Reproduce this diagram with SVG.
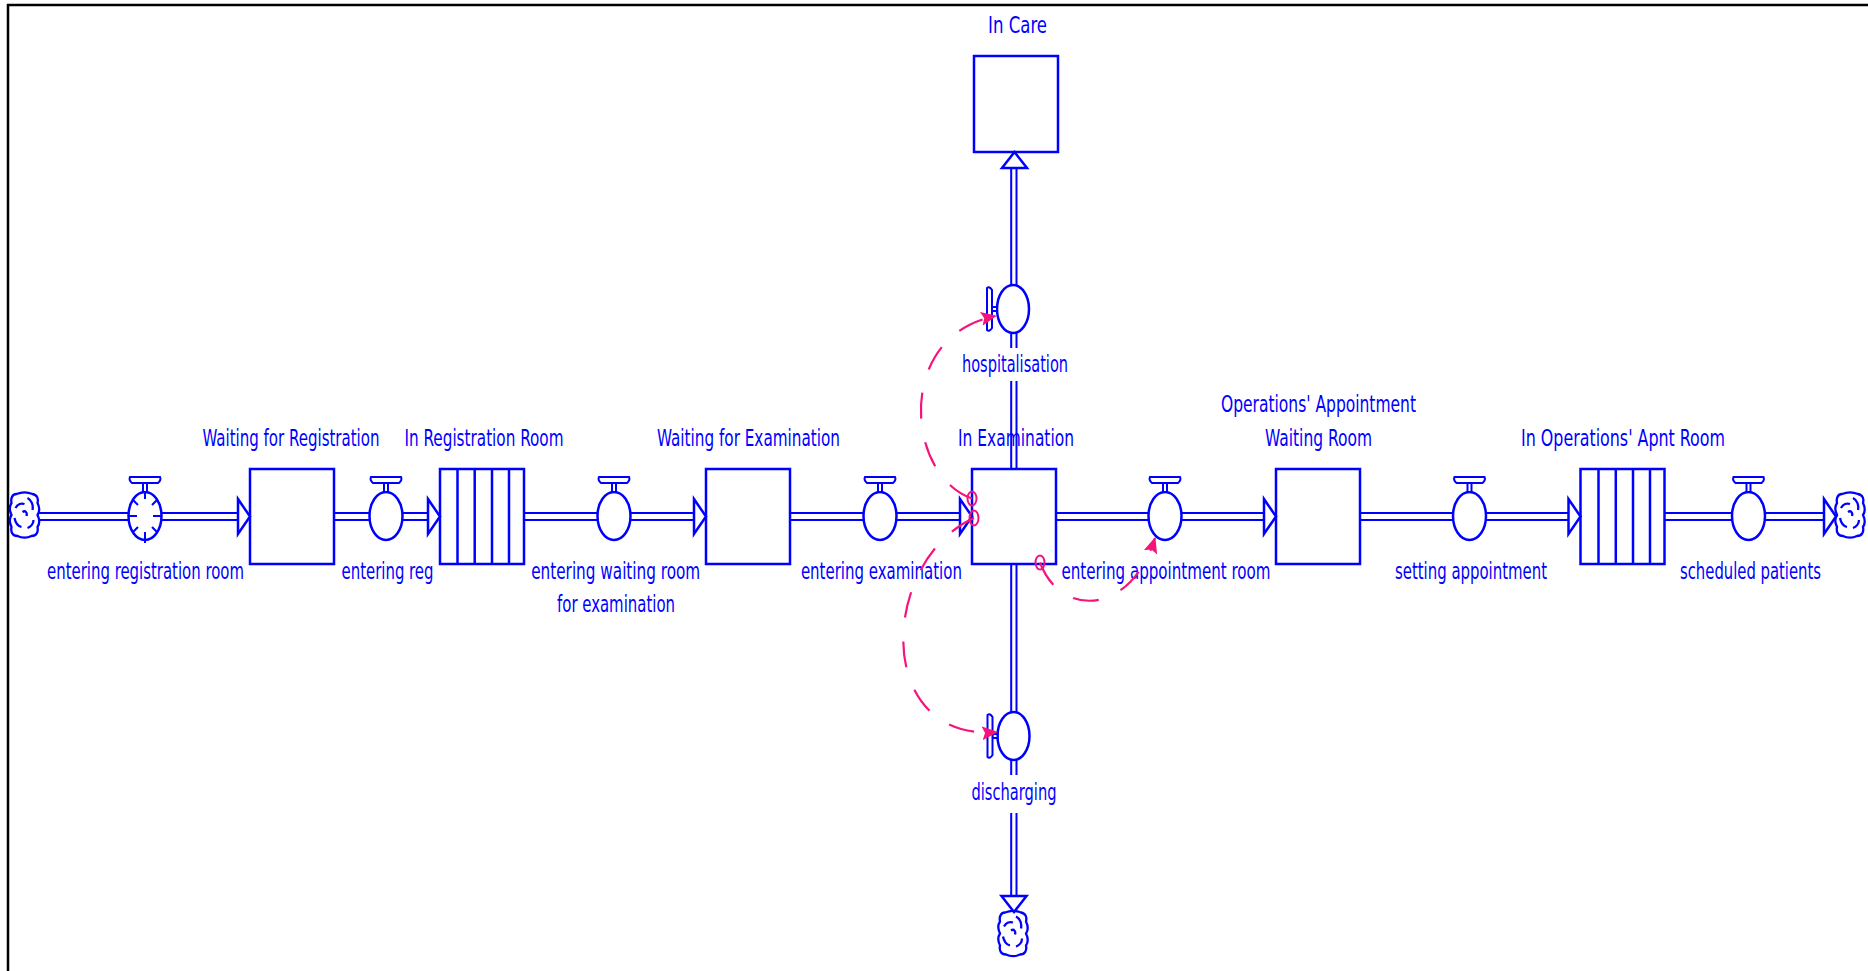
<svg xmlns="http://www.w3.org/2000/svg" xmlns:xlink="http://www.w3.org/1999/xlink" width="1868" height="971" viewBox="0 0 1868 971">
<style>
.stock{fill:#fff;stroke:#0000ff;stroke-width:2.5}
.cv{stroke:#0000ff;stroke-width:2.5}
.pipe{stroke:#0000ff;stroke-width:2;fill:none}
.vl{fill:#fff;stroke:#0000ff;stroke-width:2.5}
.vh{fill:#fff;stroke:#0000ff;stroke-width:2}
.ah{fill:#fff;stroke:#0000ff;stroke-width:2.5;stroke-linejoin:miter}
.cl{fill:#fff;stroke:#0000ff;stroke-width:2.3}
.tick{stroke:#0000ff;stroke-width:2}
.lbl{font-family:"Liberation Sans Narrow","Arial Narrow","DejaVu Sans Condensed","Liberation Sans",sans-serif;font-size:22.5px;fill:#0000ff;text-anchor:middle}
.inf{fill:none;stroke:#f5157a;stroke-width:2.2;stroke-dasharray:26 24}
.org{fill:none;stroke:#f5157a;stroke-width:2}
</style>
<defs>
<marker id="infArrow" markerUnits="userSpaceOnUse" markerWidth="18" markerHeight="16" refX="15" refY="7" orient="auto">
<path d="M0,0 L16,7 L0,14 L3,7 Z" fill="#f5157a"/>
</marker>
<g id="cloud">
<path class="cl" d="M-8,-21 C-3,-23 3,-23 8,-21 C13,-20 14,-16 13,-12 C15,-8 15,-3 13,0 C15,4 15,9 13,12 C14,17 12,21 7,21 C3,23 -3,23 -7,21 C-12,21 -14,17 -13,12 C-15,8 -15,3 -13,0 C-15,-4 -15,-9 -13,-12 C-14,-17 -12,-21 -8,-21 Z"/>
<path class="cl" fill="none" d="M-9,-7 C-7,-11 -3,-12 0,-11 M3,-17 C7,-15 9,-10 8,-5 M-10,3 C-9,8 -7,11 -3,12 M3,13 C6,12 9,9 9,5 M-2,-3 C1,-5 3,-2 2,1"/>
</g>
<g id="valveH">
<ellipse class="vl" cx="0" cy="0" rx="16.5" ry="24"/>
<rect class="vh" x="-2" y="-33" width="4" height="9"/>
<path class="vh" d="M-15,-39 H15 Q16.5,-36 13,-33 H-13 Q-16.5,-36 -15,-39 Z"/>
</g>
<g id="valveV">
<ellipse class="vl" cx="0" cy="0" rx="16" ry="24"/>
<rect class="vh" x="-21" y="-2" width="5" height="4"/>
<path class="vh" d="M-26,-21 V21 Q-23.5,23 -21,19 V-19 Q-23.5,-23 -26,-21 Z"/>
</g>
<path id="arrR" class="ah" d="M-12,-17.5 L0,0 L-12,17.5 Z"/>
<path id="arrU" class="ah" d="M-12.5,16 L0,0 L12.5,16 Z"/>
<path id="arrD" class="ah" d="M-12.5,-16 L0,0 L12.5,-16 Z"/>
</defs>
<rect x="0" y="0" width="1868" height="971" fill="#fff"/>
<g id="frame">
<line x1="7" y1="5" x2="1868" y2="5" stroke="#000" stroke-width="2.5"/>
<line x1="8" y1="4" x2="8" y2="971" stroke="#000" stroke-width="2.5"/>
</g>
<g id="source-cloud"><use xlink:href="#cloud" x="24.5" y="515"/></g>
<g id="sink-cloud-right"><use xlink:href="#cloud" x="1850" y="515"/></g>
<g id="sink-cloud-bottom"><use xlink:href="#cloud" x="1013" y="933.5"/></g>
<g id="entering-registration-room">
<use xlink:href="#valveH" x="145" y="516"/>
<path class="tick" d="M145,492V499M145,532V543M128.5,516H137M161.5,516H153M157,532L152,527M133,532L138,527M157,500L152,505M133,500L138,505"/>
<text class="lbl" x="145.5" y="579" textLength="197" lengthAdjust="spacingAndGlyphs">entering registration room</text>
</g>
<g id="waiting-for-registration">
<rect class="stock" x="250" y="469" width="84" height="95"/>
<text class="lbl" x="291" y="446" textLength="177" lengthAdjust="spacingAndGlyphs">Waiting for Registration</text>
</g>
<g id="entering-reg">
<use xlink:href="#valveH" x="386" y="516"/>
<text class="lbl" x="387.5" y="579" textLength="92" lengthAdjust="spacingAndGlyphs">entering reg</text>
</g>
<g id="in-registration-room">
<rect class="stock" x="440" y="469" width="84" height="95"/>
<path class="cv" d="M457.5,469V564M474.7,469V564M492,469V564M509,469V564"/>
<text class="lbl" x="484" y="446" textLength="159" lengthAdjust="spacingAndGlyphs">In Registration Room</text>
</g>
<g id="entering-waiting-room-for-examination">
<use xlink:href="#valveH" x="614" y="516"/>
<text class="lbl" x="615.7" y="579" textLength="169" lengthAdjust="spacingAndGlyphs">entering waiting room</text>
<text class="lbl" x="616" y="612" textLength="118" lengthAdjust="spacingAndGlyphs">for examination</text>
</g>
<g id="waiting-for-examination">
<rect class="stock" x="706" y="469" width="84" height="95"/>
<text class="lbl" x="748.5" y="446" textLength="183" lengthAdjust="spacingAndGlyphs">Waiting for Examination</text>
</g>
<g id="entering-examination">
<use xlink:href="#valveH" x="880" y="516"/>
<text class="lbl" x="881.4" y="579" textLength="161" lengthAdjust="spacingAndGlyphs">entering examination</text>
</g>
<g id="in-examination">
<rect class="stock" x="972" y="469" width="84" height="95"/>
<text class="lbl" x="1016" y="446" textLength="116" lengthAdjust="spacingAndGlyphs">In Examination</text>
</g>
<g id="hospitalisation">
<use xlink:href="#valveV" x="1013" y="309"/>
<text class="lbl" x="1015" y="372" textLength="106" lengthAdjust="spacingAndGlyphs">hospitalisation</text>
</g>
<g id="in-care">
<rect class="stock" x="974" y="56" width="84" height="96"/>
<text class="lbl" x="1017.5" y="33" textLength="59" lengthAdjust="spacingAndGlyphs">In Care</text>
</g>
<g id="discharging">
<use xlink:href="#valveV" x="1013.5" y="736"/>
<text class="lbl" x="1014" y="800" textLength="85" lengthAdjust="spacingAndGlyphs">discharging</text>
</g>
<g id="entering-appointment-room">
<use xlink:href="#valveH" x="1165" y="516"/>
<text class="lbl" x="1166" y="579" textLength="209" lengthAdjust="spacingAndGlyphs">entering appointment room</text>
</g>
<g id="operations-appointment-waiting-room">
<rect class="stock" x="1276" y="469" width="84" height="95"/>
<text class="lbl" x="1318.5" y="412" textLength="195" lengthAdjust="spacingAndGlyphs">Operations' Appointment</text>
<text class="lbl" x="1318.5" y="446" textLength="107" lengthAdjust="spacingAndGlyphs">Waiting Room</text>
</g>
<g id="setting-appointment">
<use xlink:href="#valveH" x="1469.5" y="516"/>
<text class="lbl" x="1471" y="579" textLength="152" lengthAdjust="spacingAndGlyphs">setting appointment</text>
</g>
<g id="in-operations-apnt-room">
<rect class="stock" x="1580.5" y="469" width="84" height="95"/>
<path class="cv" d="M1598.5,469V564M1615.8,469V564M1633,469V564M1650,469V564"/>
<text class="lbl" x="1623" y="446" textLength="204" lengthAdjust="spacingAndGlyphs">In Operations' Apnt Room</text>
</g>
<g id="scheduled-patients">
<use xlink:href="#valveH" x="1748.5" y="516"/>
<text class="lbl" x="1750.5" y="579" textLength="141" lengthAdjust="spacingAndGlyphs">scheduled patients</text>
</g>
<g id="connectors">
<g id="pipes-horizontal">
<path class="pipe" d="M39,513H128M39,520H128M162,513H238M162,520H238"/>
<path class="pipe" d="M334,513H369.5M334,520H369.5M402.5,513H428M402.5,520H428"/>
<path class="pipe" d="M524,513H597.5M524,520H597.5M630.5,513H694M630.5,520H694"/>
<path class="pipe" d="M790,513H863.5M790,520H863.5M896.5,513H960M896.5,520H960"/>
<path class="pipe" d="M1056,513H1148.5M1056,520H1148.5M1181.5,513H1264M1181.5,520H1264"/>
<path class="pipe" d="M1360,513H1453M1360,520H1453M1486,513H1568.5M1486,520H1568.5"/>
<path class="pipe" d="M1664.5,513H1732M1664.5,520H1732M1765,513H1824M1765,520H1824"/>
<use xlink:href="#arrR" x="250" y="516.5"/>
<use xlink:href="#arrR" x="440" y="516.5"/>
<use xlink:href="#arrR" x="706" y="516.5"/>
<use xlink:href="#arrR" x="972" y="516.5"/>
<use xlink:href="#arrR" x="1276" y="516.5"/>
<use xlink:href="#arrR" x="1580.5" y="516.5"/>
<use xlink:href="#arrR" x="1836" y="516.5"/>
</g>
<g id="pipes-vertical">
<path class="pipe" d="M1011.2,168V285M1016.5,168V285M1011.2,333V348M1016.5,333V348M1011.2,381V469M1016.5,381V469"/>
<path class="pipe" d="M1011.2,564V712M1016.5,564V712M1011.2,760V775M1016.5,760V775M1011.2,813V896M1016.5,813V896"/>
<use xlink:href="#arrU" x="1014.5" y="152"/>
<use xlink:href="#arrD" x="1014" y="912"/>
</g>
<g id="influences">
<path class="inf" d="M972,498.5 C905,475 895,335 996,316" marker-end="url(#infArrow)"/>
<path class="inf" d="M974,518 C880,560 872,742 997,732" marker-end="url(#infArrow)"/>
<path class="inf" d="M1040,562.5 C1060,617 1130,617 1155,538" marker-end="url(#infArrow)"/>
<ellipse class="org" cx="972" cy="498.5" rx="4.5" ry="7"/>
<ellipse class="org" cx="974" cy="518" rx="4.5" ry="7.5"/>
<ellipse class="org" cx="1040" cy="562.5" rx="4.5" ry="7"/>
</g>
</g>
</svg>
